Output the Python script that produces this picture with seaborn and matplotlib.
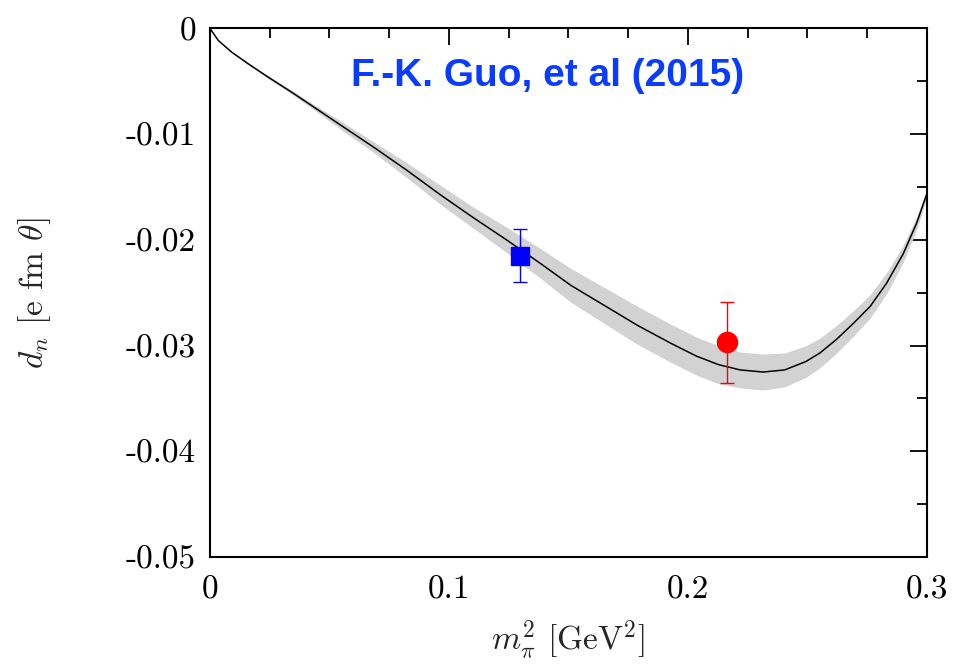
import numpy as np
import pandas as pd
import matplotlib
matplotlib.use("Agg")
import matplotlib.pyplot as plt
import seaborn as sns
from matplotlib.ticker import MultipleLocator

# ---- data ----
curve_x = [0, 0.0035, 0.0091, 0.016, 0.0244, 0.0342, 0.0439, 0.0544, 0.0683, 0.0823,
           0.0962, 0.1102, 0.1241, 0.1381, 0.151, 0.165, 0.179, 0.193, 0.2036, 0.2128,
           0.2218, 0.2315, 0.2405, 0.2494, 0.2552, 0.2622, 0.2692, 0.2762, 0.2831, 0.2901,
           0.2957, 0.3]
curve_y = [0, -0.00114, -0.00224, -0.00334, -0.00461, -0.00603, -0.0075, -0.0091, -0.0112, -0.0134,
           -0.0157, -0.0179, -0.0200, -0.0222, -0.0243, -0.0262, -0.0281, -0.0298, -0.0310, -0.0318,
           -0.0323, -0.0325, -0.0323, -0.0315, -0.0307, -0.0294, -0.0279, -0.0263, -0.0241, -0.0213,
           -0.0184, -0.0156]
band_half = [0, 0.00003, 0.00006, 0.0001, 0.00013, 0.00018, 0.00025, 0.0004, 0.0005, 0.0007,
             0.0009, 0.0010, 0.0012, 0.0014, 0.0016, 0.0017, 0.0018, 0.0018, 0.0018, 0.0018,
             0.0017, 0.0017, 0.0016, 0.0015, 0.0014, 0.0013, 0.0012, 0.0011, 0.0010, 0.0008,
             0.0006, 0.0004]

blue_x, blue_y, blue_lo, blue_hi = 0.1297, -0.0215, -0.0240, -0.0190
red_x, red_y, red_lo, red_hi = 0.2162, -0.0297, -0.0335, -0.0259

x_ticks = [0, 0.1, 0.2, 0.3]
x_labels = ["0", "0.1", "0.2", "0.3"]
y_ticks = [0, -0.01, -0.02, -0.03, -0.04, -0.05]
y_labels = ["0", "-0.01", "-0.02", "-0.03", "-0.04", "-0.05"]
annotation = "F.-K. Guo, et al (2015)"

# ---- styling ----
sns.set_theme(style="white")
plt.rcParams.update({
    "font.family": ["cmr10", "DejaVu Serif"],
    "mathtext.fontset": "cm",
    "axes.unicode_minus": False,
    "axes.linewidth": 1.5,
    "axes.edgecolor": "black",
})

df = pd.DataFrame({"x": curve_x, "y": curve_y, "h": band_half})

fig = plt.figure(figsize=(9.58, 6.69), dpi=100)
ax = fig.add_axes([0.2192, 0.1674, 0.7484, 0.79])

ax.fill_between(df["x"], df["y"] - df["h"], df["y"] + df["h"], color="#d2d2d2", lw=0, zorder=1)
sns.lineplot(data=df, x="x", y="y", color="black", lw=1.1, ax=ax, zorder=2)

ax.errorbar([blue_x], [blue_y], yerr=[[blue_y - blue_lo], [blue_hi - blue_y]], fmt="s",
            color="#0000ff", ms=12.5, capsize=4.7, elinewidth=1, capthick=1, zorder=3)
ax.errorbar([red_x], [red_y], yerr=[[red_y - red_lo], [red_hi - red_y]], fmt="o",
            color="#ff0000", ms=14.5, capsize=4.7, elinewidth=1, capthick=1, zorder=3)

ax.text(0.1414, -0.0045, annotation, ha="center", va="center", color="#0a3cff",
        fontsize=28, fontweight="bold", family=["Liberation Sans", "DejaVu Sans"])

ax.set_xlim(0, 0.3)
ax.set_ylim(-0.05, 0)
ax.set_xticks(x_ticks)
ax.set_xticklabels(x_labels)
ax.set_yticks(y_ticks)
ax.set_yticklabels(y_labels)
ax.xaxis.set_minor_locator(MultipleLocator(0.025))
ax.yaxis.set_minor_locator(MultipleLocator(0.005))
ax.tick_params(which="both", direction="in", top=True, right=True, width=1.3,
               labelsize=24, colors="black")
ax.tick_params(which="major", length=12)
ax.tick_params(which="minor", length=7)
ax.tick_params(axis="x", which="major", pad=13)
ax.tick_params(axis="y", which="major", pad=10)

ax.set_xlabel(r"$m_\pi^2$ [GeV$^2$]", fontsize=24)
ax.set_ylabel(r"$d_n$ [e fm $\theta$]", fontsize=24)
ax.xaxis.label.set_va("center")
ax.yaxis.label.set_va("center")
ax.xaxis.set_label_coords(0.5, -0.158)
ax.yaxis.set_label_coords(-0.245, 0.5)

fig.savefig("out.png", dpi=100)
